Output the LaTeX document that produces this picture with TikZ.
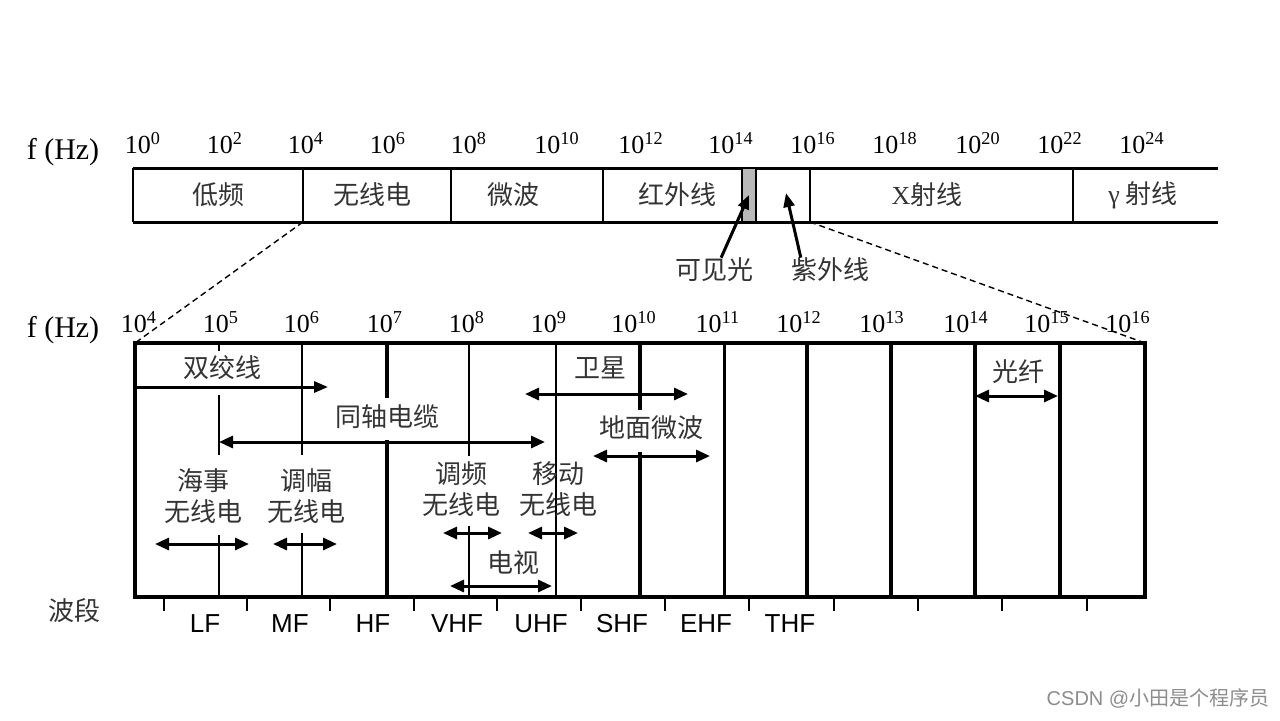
\documentclass[tikz,border=0pt]{standalone}
\usepackage{fontspec}
\setmainfont{Liberation Serif}
\setsansfont{Liberation Sans}
\newfontfamily\cjk{Noto Sans CJK SC}
\usetikzlibrary{arrows.meta,positioning}

\tikzset{
  num/.style={font=\fontsize{13}{15}\selectfont, inner sep=0pt},
  zh/.style={font=\cjk\fontsize{13}{15.5}\selectfont, text=black!80, inner sep=0pt, align=center},
  band/.style={font=\sffamily\fontsize{13}{15}\selectfont, inner sep=0pt},
  divider/.style={line width=1.25pt},
  heavy/.style={line width=2pt},
  span/.style={line width=1.5pt, {Triangle[length=7pt,width=6pt]}-{Triangle[length=7pt,width=6pt]}},
  pointer/.style={line width=1.5pt, -{Triangle[length=7pt,width=5.5pt]}},
  zoomline/.style={line width=0.7pt, densely dashed}
}

\begin{document}
\begin{tikzpicture}[x=0.5pt, y=-0.5pt]
  \useasboundingbox (0,0) rectangle (1280,720);

  % whole spectrum
  \node[num, font=\fontsize{15}{17}\selectfont] (fhzTop) at (63,152) {f (Hz)};
  \foreach \e/\x in {0/143,2/225,4/306,6/388,8/469,10/557,12/641,14/731,16/813,18/895,20/978,22/1060,24/1142}
    \node[num] (top\e) at (\x,143) {10\textsuperscript{\e}};

  \draw[line width=1.5pt] (133,168) -- (1218,168) (133,222) -- (1218,222);
  \foreach \x in {133,303,451,603,810,1073}
    \draw[divider] (\x,168) -- (\x,222);
  \node[draw, fill=gray!55, line width=0.8pt, minimum width=7pt, minimum height=27pt, inner sep=0pt] (visband) at (749,195) {};

  \node[zh] (lowfreq) at (218,195) {低频};
  \node[zh] (radio) at (372,195) {无线电};
  \node[zh] (micro) at (513,195) {微波};
  \node[zh] (infra) at (677,195) {红外线};
  \node[zh] (xray) at (927,195) {{\rmfamily X}射线};
  \node[zh] (gamma) at (1143,195) {{\rmfamily γ} 射线};

  \node[zh] (vis) at (714,270) {可见光};
  \node[zh] (uv) at (830,270) {紫外线};
  \coordinate (uvhead) at (786,193);
  \draw[pointer] (vis.60) -- (visband.center);
  \draw[pointer] (uv.157) -- (uvhead);

  % zoom into 10^4 .. 10^16
  \coordinate (topL) at (303,222);
  \coordinate (topR) at (810,222);
  \coordinate (boxNW) at (135,343);
  \coordinate (boxNE) at (1145,343);
  \draw[zoomline] (topL) -- (boxNW);
  \draw[zoomline] (topR) -- (boxNE);

  \node[num, font=\fontsize{15}{17}\selectfont] (fhzLow) at (63,330) {f (Hz)};
  \foreach \e/\x in {4/139,5/221,6/302,7/385,8/467,9/549,10/634,11/718,12/799,13/882,14/966,15/1047,16/1128}
    \node[num] (low\e) at (\x,322) {10\textsuperscript{\e}};

  \draw[heavy] (boxNW) rectangle (1145,597);
  \draw[divider] (219,343) -- (219,351) (219,395) -- (219,455) (219,535) -- (219,597);
  \draw[divider] (302,343) -- (302,455) (302,533) -- (302,597);
  \draw[heavy] (387,343) -- (387,398) (387,440) -- (387,597);
  \draw[divider] (469,343) -- (469,456) (469,526) -- (469,597);
  \draw[divider] (556,343) -- (556,597);
  \draw[heavy] (640,343) -- (640,410) (640,452) -- (640,597);
  \draw[line width=1.5pt] (724,343) -- (724,597);
  \foreach \x in {807,891,975,1060}
    \draw[heavy] (\x,343) -- (\x,597);

  % media and services
  \coordinate (twisted-l) at (135,387);
  \coordinate (twisted-r) at (328,387);
  \draw[pointer] (twisted-l) -- (twisted-r);
  \foreach \n/\a/\b/\y in {coax/219/545/442, sat/525/688/394, ground/593/710/456,
      fiber/975/1058/396, marine/155/249/544, am/273/337/544, fm/443/502/533,
      mobile/528/578/533, tv/450/552/586} {
    \coordinate (\n-l) at (\a,\y);
    \coordinate (\n-r) at (\b,\y);
    \draw[span] (\n-l) -- (\n-r);
  }

  \node[zh] (twisted) at (222,368) {双绞线};
  \node[zh] (coax) at (387,417) {同轴电缆};
  \node[zh] (sat) at (600,368) {卫星};
  \node[zh] (ground) at (651,428) {地面微波};
  \node[zh] (fiber) at (1018,372) {光纤};
  \node[zh] (marine) at (203,496) {海事\\无线电};
  \node[zh] (am) at (306,496) {调幅\\无线电};
  \node[zh] (fm) at (461,489) {调频\\无线电};
  \node[zh] (mobile) at (558,489) {移动\\无线电};
  \node[zh] (tv) at (513,563) {电视};

  % bands
  \node[zh] (bands) at (74,611) {波段};
  \foreach \x in {164,247,330,414,497,581,665,749,834,918,1002,1087}
    \draw[divider] (\x,597) -- (\x,611);
  \foreach \b/\x in {LF/205,MF/290,HF/373,VHF/457,UHF/541,SHF/622,EHF/706,THF/790}
    \node[band] (band\b) at (\x,624) {\b};

  \node[inner sep=0pt, text=black!45, font=\fontsize{10}{12}\selectfont] (mark) at (1158,698) {\sffamily CSDN @{\cjk 小田是个程序员}};
\end{tikzpicture}
\end{document}
